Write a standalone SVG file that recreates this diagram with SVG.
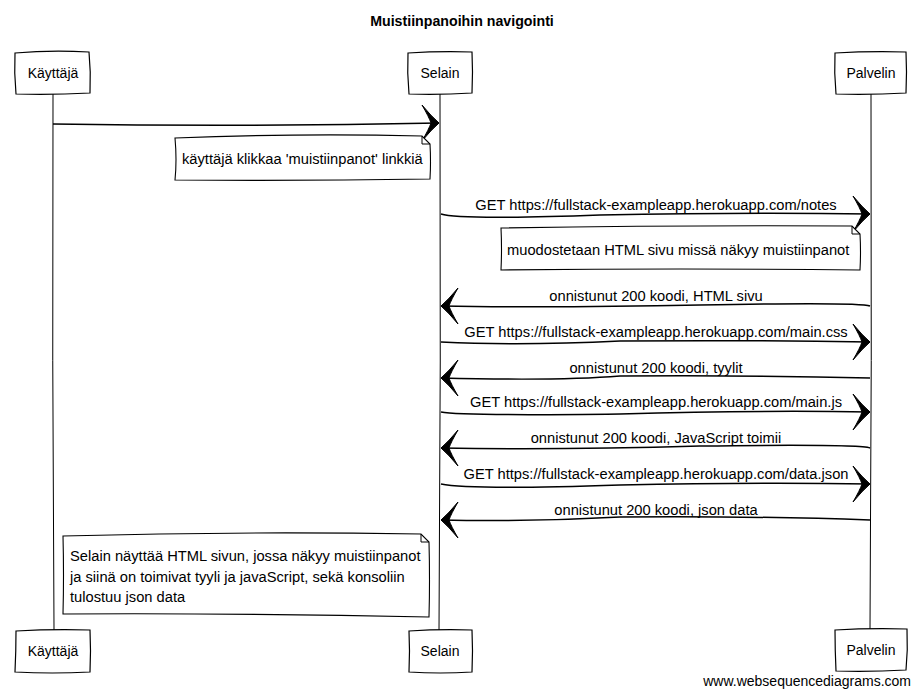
<svg xmlns="http://www.w3.org/2000/svg" xmlns:xlink="http://www.w3.org/1999/xlink" width="922" height="695" viewBox="0 0 922 695">
<style>
text{font-family:"Liberation Sans",Arial,sans-serif;font-size:14px;fill:#000}
.lbl{font-size:14.7px}
.title{font-weight:bold;text-anchor:middle;font-size:14.2px}
.mid{text-anchor:middle}
.box{fill:#fff;stroke:#000;stroke-width:1.2}
.life{fill:none;stroke:#000;stroke-width:1}
.msg{fill:none;stroke:#000;stroke-width:1.5}
.note{fill:#fff;stroke:#000;stroke-width:1.1}
.fold{fill:none;stroke:#000;stroke-width:1}
</style>
<defs>
<path id="ah" d="M0,0 Q-8,-7 -17,-18 Q-10,-6 -8,0 Q-10,6 -17,18 Q-8,7 0,0 Z" fill="#000" stroke="#000" stroke-width="1"/>
</defs>
<rect width="922" height="695" fill="#fff"/>
<text class="title" x="462" y="26">Muistiinpanoihin navigointi</text>

<g id="actor-kayttaja">
<path class="life" d="M53,93 Q52,360 54,630"/>
<path class="box" d="M15,53 Q50,50 89,52 Q91,72 90,93 Q52,95 16,94 Q14,73 15,53 Z"/>
<text class="mid" x="53" y="78">Käyttäjä</text>
<path class="box" d="M16,631 Q52,629 90,630 Q91,651 90,672 Q52,674 15,672 Q16,651 16,631 Z"/>
<text class="mid" x="53" y="656">Käyttäjä</text>
</g>

<g id="actor-selain">
<path class="life" d="M440,93 Q441,360 439,631"/>
<path class="box" d="M408,53 Q440,51 472,52 Q473,72 472,93 Q440,95 409,94 Q407,73 408,53 Z"/>
<text class="mid" x="440" y="78">Selain</text>
<path class="box" d="M409,631 Q440,629 472,630 Q473,651 472,672 Q440,674 409,672 Q410,651 409,631 Z"/>
<text class="mid" x="440" y="656">Selain</text>
</g>

<g id="actor-palvelin">
<path class="life" d="M871,93 Q872,360 870,629"/>
<path class="box" d="M835,53 Q870,51 906,52 Q907,72 906,93 Q870,95 836,94 Q834,73 835,53 Z"/>
<text class="mid" x="871" y="78">Palvelin</text>
<path class="box" d="M835,630 Q870,628 907,629 Q908,650 906,670 Q870,672 836,671 Q835,650 835,630 Z"/>
<text class="mid" x="871" y="655">Palvelin</text>
</g>

<g id="connectors">
<path class="msg" d="M53,124 Q250,127 439,123"/>
<use xlink:href="#ah" href="#ah" transform="translate(439,123)"/>

<path class="msg" d="M441,214 Q460,220 600,215 Q750,212 870,214"/>
<use xlink:href="#ah" href="#ah" transform="translate(870,214)"/>
<text class="mid lbl" x="656" y="210">GET https://fullstack-exampleapp.herokuapp.com/notes</text>

<path class="msg" d="M870,306 Q860,302 700,305 Q550,308 441,306"/>
<use xlink:href="#ah" href="#ah" transform="translate(441,306) scale(-1,1)"/>
<text class="mid lbl" x="656" y="301">onnistunut 200 koodi, HTML sivu</text>

<path class="msg" d="M441,342 Q520,346 620,341 Q750,340 870,342"/>
<use xlink:href="#ah" href="#ah" transform="translate(870,342)"/>
<text class="mid lbl" x="656" y="337">GET https://fullstack-exampleapp.herokuapp.com/main.css</text>

<path class="msg" d="M870,378 Q750,375 620,376 Q560,381 441,378"/>
<use xlink:href="#ah" href="#ah" transform="translate(441,378) scale(-1,1)"/>
<text class="mid lbl" x="656" y="373">onnistunut 200 koodi, tyylit</text>

<path class="msg" d="M441,412 Q460,416 620,414 Q760,410 870,412"/>
<use xlink:href="#ah" href="#ah" transform="translate(870,412)"/>
<text class="mid lbl" x="656" y="407">GET https://fullstack-exampleapp.herokuapp.com/main.js</text>

<path class="msg" d="M870,448 Q860,444 700,446 Q560,450 441,448"/>
<use xlink:href="#ah" href="#ah" transform="translate(441,448) scale(-1,1)"/>
<text class="mid lbl" x="656" y="443">onnistunut 200 koodi, JavaScript toimii</text>

<path class="msg" d="M441,484 Q470,490 620,485 Q760,482 870,484"/>
<use xlink:href="#ah" href="#ah" transform="translate(870,484)"/>
<text class="mid lbl" x="656" y="479">GET https://fullstack-exampleapp.herokuapp.com/data.json</text>

<path class="msg" d="M870,520 Q760,516 620,517 Q530,522 441,520"/>
<use xlink:href="#ah" href="#ah" transform="translate(441,520) scale(-1,1)"/>
<text class="mid lbl" x="656" y="515">onnistunut 200 koodi, json data</text>
</g>

<g id="note-1">
<path class="note" d="M175,138 Q300,133 422,136 L430,144 Q431,162 430,179 Q300,181 175,180 Q177,160 175,138 Z"/>
<path class="fold" d="M422,136 L422,144 L430,144"/>
<text class="lbl" x="182" y="164">käyttäjä klikkaa 'muistiinpanot' linkkiä</text>
</g>

<g id="note-2">
<path class="note" d="M501,228 Q680,225 852,226 L860,234 Q861,252 860,270 Q680,268 501,270 Q502,249 501,228 Z"/>
<path class="fold" d="M852,226 L852,234 L860,234"/>
<text class="lbl" x="507" y="255">muodostetaan HTML sivu missä näkyy muistiinpanot</text>
</g>

<g id="note-3">
<path class="note" d="M63,536 Q240,531 421,534 L429,542 Q430,580 429,617 Q240,613 63,614 Q64,575 63,536 Z"/>
<path class="fold" d="M421,534 L421,542 L429,542"/>
<text class="lbl" x="70" y="561">Selain näyttää HTML sivun, jossa näkyy muistiinpanot</text>
<text class="lbl" x="70" y="582">ja siinä on toimivat tyyli ja javaScript, sekä konsoliin</text>
<text class="lbl" x="70" y="602">tulostuu json data</text>
</g>

<text x="911" y="686" style="text-anchor:end">www.websequencediagrams.com</text>
</svg>
